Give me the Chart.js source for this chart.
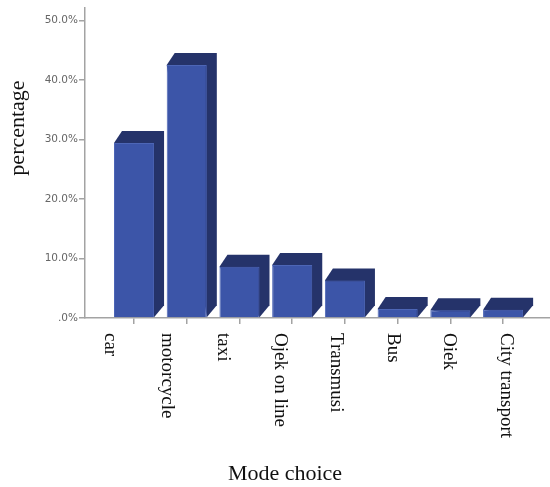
<!DOCTYPE html>
<html><head><meta charset="utf-8">
<script src="https://cdn.jsdelivr.net/npm/chart.js@4"></script>
<style>html,body{margin:0;padding:0;background:#fff}</style>
</head><body>
<canvas id="c" width="550" height="487" style="display:block;width:550px;height:487px"></canvas>
<script>
const categories = ['car', 'motorcycle', 'taxi', 'Ojek on line', 'Transmusi', 'Bus', 'Oiek', 'City transport'];
const percentages = [29.4, 42.5, 8.6, 8.9, 6.3, 1.5, 1.3, 1.4];
const yTickValues = [0, 10, 20, 30, 40, 50];
const yTickLabels = ['.0%', '10.0%', '20.0%', '30.0%', '40.0%', '50.0%'];
const xTitle = 'Mode choice';
const yTitle = 'percentage';

const FRONT = '#3c55a8';
const DARK = '#25336a';
const AXIS = '#a3a3a3';
const DX = 10, DY = 12;

const bar3d = {
  id: 'bar3d',
  beforeDatasetsDraw(chart) {
    const ctx = chart.ctx;
    const meta = chart.getDatasetMeta(0);
    ctx.save();
    ctx.fillStyle = DARK;
    meta.data.forEach(el => {
      const p = el.getProps(['x', 'y', 'base', 'width'], true);
      const l = p.x - p.width / 2, r = p.x + p.width / 2;
      ctx.beginPath();
      ctx.moveTo(l, p.y);
      ctx.lineTo(l + DX - 2, p.y - DY);
      ctx.lineTo(r + DX, p.y - DY);
      ctx.lineTo(r + DX, p.base - DY);
      ctx.lineTo(r, p.base);
      ctx.closePath();
      ctx.fill();
    });
    ctx.restore();
  },
  afterDraw(chart) {
    const ctx = chart.ctx;
    const xs = chart.scales.x;
    const yBase = chart.chartArea.bottom;
    ctx.save();
    ctx.fillStyle = '#111';
    ctx.font = '19px "Liberation Serif", "Times New Roman", serif';
    ctx.textAlign = 'left';
    ctx.textBaseline = 'middle';
    categories.forEach((c, i) => {
      // labels in the reference sit slightly wider-spread than the ticks
      const x = xs.getPixelForValue(i * 1.072 - 0.45);
      ctx.save();
      ctx.translate(x, yBase + 15);
      ctx.rotate(Math.PI / 2);
      ctx.fillText(c, 0, 0);
      ctx.restore();
    });
    ctx.font = '22px "Liberation Serif", "Times New Roman", serif';
    ctx.textAlign = 'center';
    ctx.textBaseline = 'alphabetic';
    ctx.fillText(xTitle, 285, 480);
    ctx.save();
    ctx.translate(24, 128);
    ctx.rotate(-Math.PI / 2);
    ctx.fillText(yTitle, 0, 0);
    ctx.restore();
    ctx.restore();
  }
};

new Chart(document.getElementById('c'), {
  type: 'bar',
  data: {
    datasets: [{
      xAxisID: 'x',
      yAxisID: 'y',
      data: categories.map((c, i) => ({ x: i, y: percentages[i] })),
      backgroundColor: FRONT,
      borderColor: '#4d66b6',
      borderWidth: 1,
      barPercentage: 0.76,
      categoryPercentage: 1
    }]
  },
  options: {
    responsive: false,
    animation: false,
    layout: { padding: { top: 7, right: 0, left: 0, bottom: 0 } },
    plugins: { legend: { display: false }, tooltip: { enabled: false } },
    scales: {
      x: {
        type: 'linear',
        offset: false,
        min: -0.93,
        max: 7.89,
        afterBuildTicks: s => { s.ticks = categories.map((c, i) => ({ value: i })); },
        afterFit: s => { s.height = 169; },
        ticks: { display: false },
        grid: { offset: false, drawOnChartArea: false, drawTicks: true, tickLength: 6, color: AXIS, lineWidth: 1.5 },
        border: { color: AXIS, width: 1.5 }
      },
      y: {
        min: 0,
        max: 52.2,
        afterBuildTicks: s => { s.ticks = yTickValues.map(v => ({ value: v })); },
        afterFit: s => { s.width = 85; },
        ticks: {
          padding: 1,
          color: '#666',
          font: { family: '"DejaVu Sans", sans-serif', size: 10.5 },
          callback: v => yTickLabels[yTickValues.indexOf(v)]
        },
        grid: { drawOnChartArea: false, drawTicks: true, tickLength: 6, color: AXIS, lineWidth: 1.5 },
        border: { color: AXIS, width: 1.5 }
      }
    }
  },
  plugins: [bar3d]
});
</script>
</body></html>
